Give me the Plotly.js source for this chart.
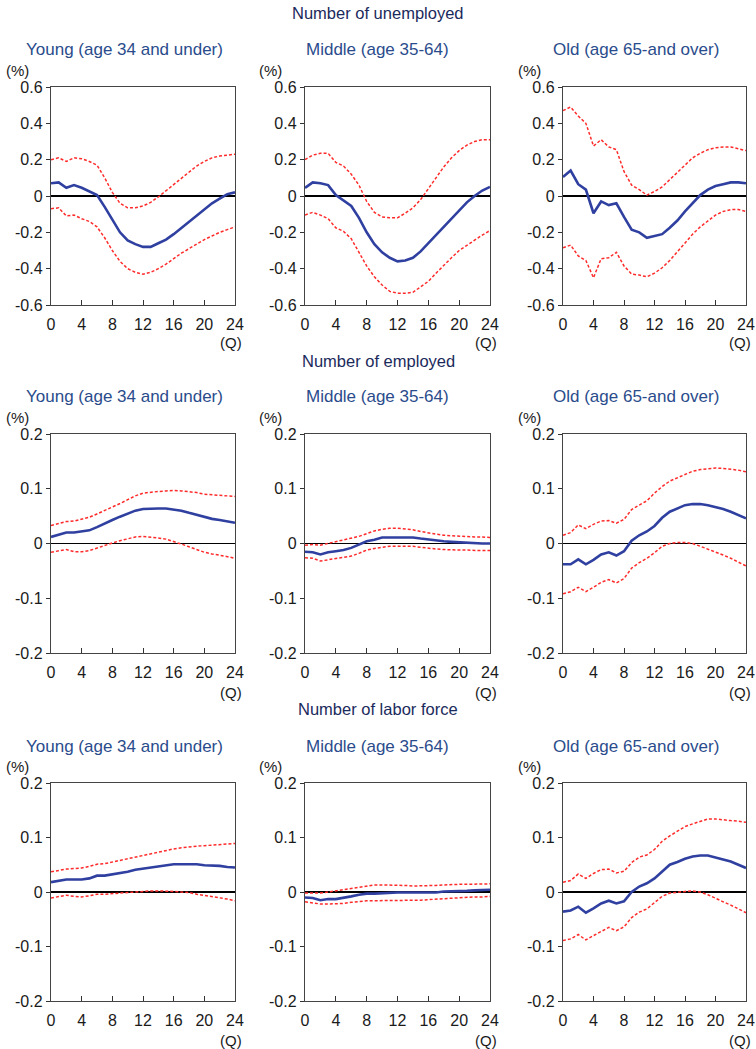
<!DOCTYPE html>
<html>
<head>
<meta charset="utf-8">
<script src="https://cdn.plot.ly/plotly-3.0.1.min.js"></script>
<style>html,body{margin:0;padding:0;background:#fff;}#chart{width:756px;height:1049px;}</style>
</head>
<body>
<div id="chart"></div>
<script>
// ---------------- DATA ----------------
const quarters = [0,1,2,3,4,5,6,7,8,9,10,11,12,13,14,15,16,17,18,19,20,21,22,23,24];
const xTickVals = [0,4,8,12,16,20,24];
const xTickText = ['0','4','8','12','16','20','24'];
const yTickValsWide = [-0.6,-0.4,-0.2,0,0.2,0.4,0.6];
const yTickTextWide = ['-0.6','-0.4','-0.2','0','0.2','0.4','0.6'];
const yTickValsNarrow = [-0.2,-0.1,0,0.1,0.2];
const yTickTextNarrow = ['-0.2','-0.1','0','0.1','0.2'];
const sectionTitles = ['Number of unemployed','Number of employed','Number of labor force'];
const groupTitles = ['Young (age 34 and under)','Middle (age 35-64)','Old (age 65-and over)'];

// Unemployed
const unempYoungMean  = [0.07,0.075,0.045,0.06,0.045,0.025,0.005,-0.06,-0.13,-0.2,-0.245,-0.265,-0.28,-0.28,-0.26,-0.24,-0.21,-0.175,-0.14,-0.105,-0.07,-0.04,-0.015,0.01,0.02];
const unempYoungUpper = [0.2,0.21,0.19,0.21,0.205,0.19,0.17,0.1,0.02,-0.04,-0.065,-0.065,-0.055,-0.035,-0.005,0.03,0.065,0.1,0.135,0.165,0.19,0.21,0.22,0.225,0.23];
const unempYoungLower = [-0.07,-0.065,-0.11,-0.105,-0.125,-0.14,-0.17,-0.23,-0.3,-0.36,-0.4,-0.42,-0.43,-0.42,-0.4,-0.375,-0.345,-0.315,-0.29,-0.265,-0.24,-0.22,-0.2,-0.185,-0.17];
const unempMiddleMean  = [0.045,0.075,0.07,0.06,0.005,-0.025,-0.055,-0.12,-0.2,-0.265,-0.31,-0.34,-0.36,-0.355,-0.34,-0.305,-0.26,-0.215,-0.165,-0.125,-0.075,-0.035,0.0,0.03,0.05];
const unempMiddleUpper = [0.2,0.225,0.235,0.235,0.185,0.165,0.12,0.06,-0.03,-0.09,-0.115,-0.12,-0.12,-0.095,-0.065,-0.02,0.04,0.1,0.16,0.21,0.25,0.28,0.3,0.31,0.31];
const unempMiddleLower = [-0.105,-0.09,-0.105,-0.125,-0.175,-0.195,-0.235,-0.31,-0.385,-0.445,-0.49,-0.525,-0.535,-0.535,-0.53,-0.5,-0.47,-0.425,-0.38,-0.34,-0.3,-0.27,-0.24,-0.215,-0.19];
const unempOldMean  = [0.105,0.14,0.065,0.035,-0.095,-0.03,-0.05,-0.04,-0.115,-0.185,-0.2,-0.23,-0.22,-0.21,-0.175,-0.135,-0.085,-0.04,0.005,0.035,0.055,0.065,0.075,0.075,0.07];
const unempOldUpper = [0.47,0.49,0.44,0.4,0.275,0.31,0.27,0.255,0.135,0.06,0.035,0.005,0.025,0.05,0.09,0.13,0.17,0.21,0.235,0.255,0.265,0.27,0.27,0.26,0.25];
const unempOldLower = [-0.285,-0.27,-0.33,-0.355,-0.45,-0.345,-0.34,-0.31,-0.385,-0.43,-0.435,-0.445,-0.425,-0.395,-0.355,-0.305,-0.26,-0.21,-0.17,-0.135,-0.105,-0.085,-0.075,-0.075,-0.085];

// Employed
const empYoungMean  = [0.012,0.016,0.02,0.02,0.022,0.024,0.03,0.037,0.043,0.049,0.055,0.06,0.063,0.064,0.064,0.064,0.062,0.06,0.056,0.052,0.048,0.045,0.043,0.04,0.038];
const empYoungUpper = [0.033,0.037,0.04,0.041,0.044,0.048,0.054,0.06,0.067,0.073,0.08,0.087,0.092,0.094,0.095,0.096,0.097,0.096,0.095,0.093,0.09,0.089,0.089,0.087,0.086];
const empYoungLower = [-0.016,-0.013,-0.011,-0.015,-0.015,-0.013,-0.008,-0.003,0.001,0.005,0.009,0.012,0.013,0.012,0.01,0.008,0.004,-0.001,-0.006,-0.011,-0.016,-0.019,-0.021,-0.024,-0.027];
const empMiddleMean  = [-0.015,-0.016,-0.02,-0.016,-0.014,-0.012,-0.008,-0.002,0.004,0.007,0.011,0.011,0.011,0.011,0.011,0.009,0.007,0.005,0.004,0.003,0.002,0.001,0.0,0.0,0.0];
const empMiddleUpper = [-0.003,-0.002,-0.003,0.0,0.003,0.006,0.009,0.013,0.018,0.023,0.026,0.028,0.028,0.027,0.025,0.022,0.019,0.017,0.015,0.014,0.013,0.013,0.012,0.012,0.011];
const empMiddleLower = [-0.026,-0.027,-0.032,-0.03,-0.028,-0.026,-0.023,-0.018,-0.012,-0.009,-0.007,-0.005,-0.005,-0.005,-0.005,-0.007,-0.009,-0.01,-0.011,-0.012,-0.012,-0.012,-0.013,-0.013,-0.013];
const empOldMean  = [-0.038,-0.038,-0.029,-0.038,-0.03,-0.02,-0.016,-0.022,-0.014,0.005,0.015,0.022,0.032,0.047,0.058,0.064,0.07,0.072,0.072,0.07,0.067,0.063,0.058,0.052,0.046];
const empOldUpper = [0.015,0.02,0.034,0.027,0.035,0.041,0.042,0.037,0.044,0.062,0.07,0.078,0.092,0.104,0.114,0.12,0.127,0.132,0.135,0.137,0.138,0.137,0.136,0.134,0.131];
const empOldLower = [-0.092,-0.088,-0.08,-0.088,-0.08,-0.071,-0.066,-0.072,-0.064,-0.045,-0.035,-0.027,-0.017,-0.005,0.0,0.002,0.002,0.0,-0.005,-0.01,-0.015,-0.021,-0.027,-0.034,-0.041];

// Labor force
const labYoungMean  = [0.018,0.02,0.023,0.023,0.023,0.025,0.03,0.03,0.032,0.034,0.037,0.041,0.043,0.045,0.047,0.049,0.051,0.051,0.051,0.051,0.049,0.049,0.048,0.046,0.045];
const labYoungUpper = [0.037,0.04,0.042,0.043,0.044,0.047,0.051,0.052,0.055,0.058,0.061,0.065,0.067,0.07,0.074,0.077,0.079,0.081,0.083,0.084,0.085,0.086,0.087,0.088,0.089];
const labYoungLower = [-0.011,-0.008,-0.006,-0.008,-0.009,-0.007,-0.004,-0.004,-0.003,-0.002,0.0,0.001,0.002,0.002,0.002,0.002,0.001,0.0,-0.001,-0.004,-0.006,-0.008,-0.01,-0.013,-0.016];
const labMiddleMean  = [-0.01,-0.011,-0.015,-0.013,-0.013,-0.011,-0.008,-0.005,-0.003,-0.003,-0.002,-0.001,-0.001,-0.001,-0.001,-0.001,-0.001,-0.001,0.001,0.001,0.002,0.002,0.003,0.004,0.004];
const labMiddleUpper = [-0.002,-0.002,-0.002,0.0,0.002,0.004,0.007,0.009,0.011,0.013,0.013,0.013,0.013,0.012,0.011,0.011,0.011,0.012,0.013,0.014,0.014,0.014,0.014,0.015,0.015];
const labMiddleLower = [-0.018,-0.02,-0.022,-0.022,-0.022,-0.021,-0.019,-0.017,-0.016,-0.016,-0.016,-0.015,-0.015,-0.015,-0.015,-0.015,-0.014,-0.013,-0.012,-0.011,-0.01,-0.01,-0.009,-0.009,-0.008];
const labOldMean  = [-0.036,-0.034,-0.027,-0.038,-0.03,-0.021,-0.016,-0.021,-0.017,0.0,0.01,0.016,0.025,0.038,0.05,0.055,0.061,0.065,0.067,0.067,0.063,0.059,0.056,0.05,0.044];
const labOldUpper = [0.018,0.021,0.033,0.025,0.034,0.041,0.042,0.035,0.038,0.054,0.064,0.068,0.078,0.093,0.103,0.112,0.12,0.125,0.13,0.134,0.134,0.132,0.131,0.13,0.128];
const labOldLower = [-0.089,-0.086,-0.078,-0.088,-0.08,-0.072,-0.065,-0.071,-0.064,-0.047,-0.037,-0.031,-0.02,-0.008,-0.002,0.0,0.001,0.002,0.0,-0.005,-0.012,-0.018,-0.024,-0.031,-0.038];

// ---------------- LAYOUT ----------------
const W = 756, H = 1049;
const FONT = 'Liberation Sans, Arial, sans-serif';
const colPx = [[51,235],[305,490],[563,746]];
const rowPx = [[87,305],[434,653],[783,1001]];
const px2x = p => p / W;
const px2y = p => 1 - p / H;

const panels = [
  [[unempYoungMean,unempYoungUpper,unempYoungLower],[unempMiddleMean,unempMiddleUpper,unempMiddleLower],[unempOldMean,unempOldUpper,unempOldLower]],
  [[empYoungMean,empYoungUpper,empYoungLower],[empMiddleMean,empMiddleUpper,empMiddleLower],[empOldMean,empOldUpper,empOldLower]],
  [[labYoungMean,labYoungUpper,labYoungLower],[labMiddleMean,labMiddleUpper,labMiddleLower],[labOldMean,labOldUpper,labOldLower]]
];

const traces = [];
const layout = {
  width: W, height: H,
  margin: {l:0,r:0,t:0,b:0},
  paper_bgcolor: '#fff', plot_bgcolor: '#fff',
  showlegend: false,
  font: {family: FONT, size: 16, color: '#1a1a1a'},
  annotations: []
};

const blue = '#2f40a0';
const red = '#ff2b2b';

const sectionY = [13, 361, 709];
const groupTitleY = [50, 397, 746];
const groupTitleX = [124, 377, 636];
const pctX = [17, 270, 529];
const pctY = [70, 417, 766];
const qY = [342, 692, 1040];
const qX = [231, 486, 740];

let idx = 0;
for (let r = 0; r < 3; r++) {
  for (let c = 0; c < 3; c++) {
    idx++;
    const xr = 'x' + (idx === 1 ? '' : idx);
    const yr = 'y' + (idx === 1 ? '' : idx);
    const xa = 'xaxis' + (idx === 1 ? '' : idx);
    const ya = 'yaxis' + (idx === 1 ? '' : idx);
    const wide = (r === 0);
    layout[xa] = {
      domain: [px2x(colPx[c][0]), px2x(colPx[c][1])],
      anchor: yr,
      range: [0, 24],
      tickmode: 'array', tickvals: xTickVals, ticktext: xTickText,
      ticks: 'inside', ticklen: 5, tickcolor: '#333', tickwidth: 1,
      ticklabelstandoff: 5,
      showline: true, linecolor: '#444', linewidth: 1.2, mirror: true,
      showgrid: false, zeroline: false,
      tickfont: {family: FONT, size: 16, color: '#1a1a1a'},
      fixedrange: true
    };
    layout[ya] = {
      domain: [px2y(rowPx[r][1]), px2y(rowPx[r][0])],
      anchor: xr,
      range: wide ? [-0.6, 0.6] : [-0.2, 0.2],
      tickmode: 'array',
      tickvals: wide ? yTickValsWide : yTickValsNarrow,
      ticktext: wide ? yTickTextWide : yTickTextNarrow,
      ticks: 'outside', ticklen: 4, tickcolor: '#333', tickwidth: 1,
      showline: true, linecolor: '#444', linewidth: 1.2, mirror: true,
      showgrid: false,
      zeroline: true, zerolinecolor: '#000', zerolinewidth: 1.2,
      tickfont: {family: FONT, size: 16, color: '#1a1a1a'},
      fixedrange: true
    };
    const [mean, upper, lower] = panels[r][c];
    traces.push({x: quarters, y: upper, xaxis: xr, yaxis: yr, type: 'scatter', mode: 'lines',
      line: {color: red, width: 1.5, dash: '3px,2px'}, hoverinfo: 'skip'});
    traces.push({x: quarters, y: lower, xaxis: xr, yaxis: yr, type: 'scatter', mode: 'lines',
      line: {color: red, width: 1.5, dash: '3px,2px'}, hoverinfo: 'skip'});
    traces.push({x: quarters, y: mean, xaxis: xr, yaxis: yr, type: 'scatter', mode: 'lines',
      line: {color: blue, width: 2.6}, hoverinfo: 'skip'});

    layout.annotations.push({text: groupTitles[c], xref: 'paper', yref: 'paper',
      x: px2x(groupTitleX[c]), y: px2y(groupTitleY[r]), xanchor: 'center', yanchor: 'middle',
      showarrow: false, font: {family: FONT, size: 17, color: '#2a4c8c'}});
    layout.annotations.push({text: '(%)', xref: 'paper', yref: 'paper',
      x: px2x(pctX[c]), y: px2y(pctY[r]), xanchor: 'center', yanchor: 'middle',
      showarrow: false, font: {family: FONT, size: 15, color: '#1a1a1a'}});
    layout.annotations.push({text: '(Q)', xref: 'paper', yref: 'paper',
      x: px2x(qX[c]), y: px2y(qY[r]), xanchor: 'center', yanchor: 'middle',
      showarrow: false, font: {family: FONT, size: 15, color: '#1a1a1a'}});
  }
  layout.annotations.push({text: sectionTitles[r], xref: 'paper', yref: 'paper',
    x: px2x(378), y: px2y(sectionY[r]), xanchor: 'center', yanchor: 'middle',
    showarrow: false, font: {family: FONT, size: 16.5, color: '#1b2a5c'}});
}

Plotly.newPlot('chart', traces, layout, {staticPlot: true, displayModeBar: false});
</script>
</body>
</html>
